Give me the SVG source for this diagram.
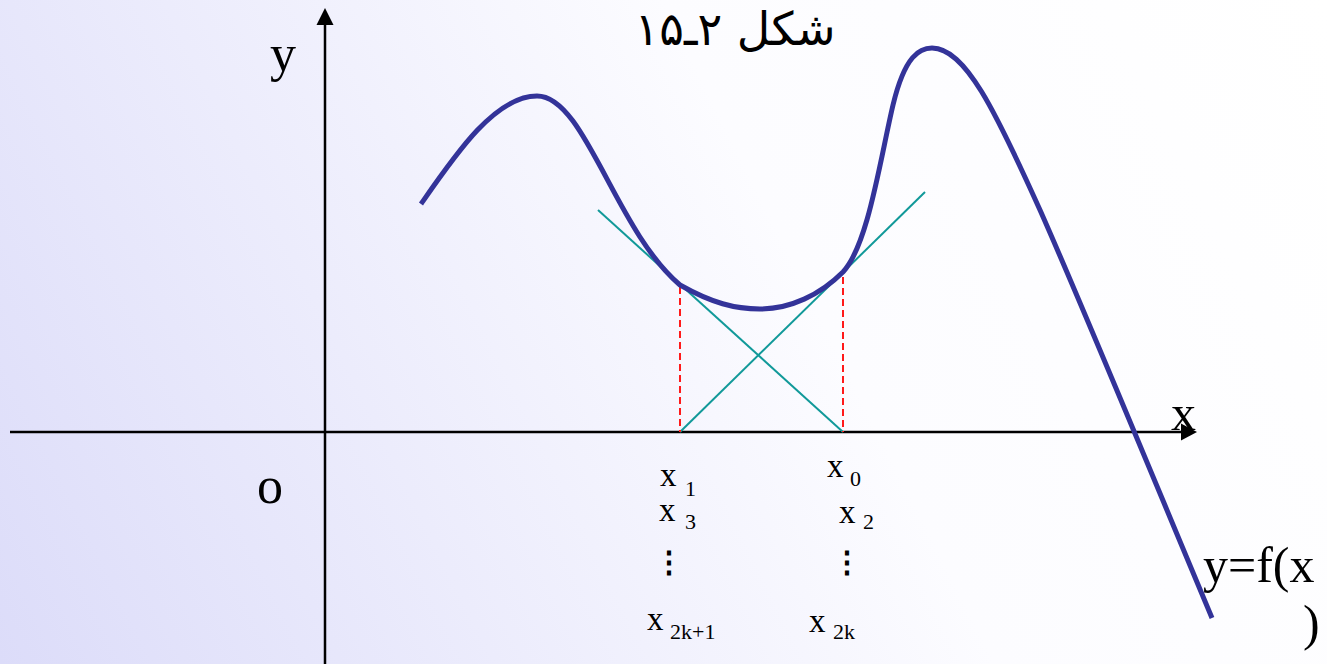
<svg xmlns="http://www.w3.org/2000/svg" width="1327" height="664" viewBox="0 0 1327 664">
<defs>
<linearGradient id="bg" x1="0" y1="664" x2="1327" y2="0" gradientUnits="userSpaceOnUse">
<stop offset="0" stop-color="#dcdcf9"/>
<stop offset="0.6" stop-color="#fcfcff"/>
<stop offset="1" stop-color="#ffffff"/>
</linearGradient>
</defs>
<style>
.ax{stroke:#000;stroke-width:2.5;fill:none}
.tan{stroke:#119999;stroke-width:2;fill:none}
.dash{stroke:#ff1a1a;stroke-width:2;stroke-dasharray:7,4;fill:none}
.curve{stroke:#333399;stroke-width:5;fill:none;stroke-linecap:butt}
.t{font-family:"Liberation Serif","Times New Roman",serif;fill:#000}
.x{font-family:"Liberation Serif","Times New Roman",serif;fill:#000;font-size:33px}
.sub{font-family:"Liberation Serif","Times New Roman",serif;fill:#000;font-size:22px}
.dots{font-family:"DejaVu Serif",serif;fill:#000;font-size:30px;font-weight:bold}
</style>
<rect width="1327" height="664" fill="url(#bg)"/>
<g id="connectors">
<line class="ax" x1="325" y1="664" x2="325" y2="22"/>
<path d="M325,8 L316.5,25 L333.5,25 Z" fill="#000"/>
<line class="ax" x1="10" y1="432" x2="1183" y2="432"/>
<path d="M1197,432 L1181,423.5 L1181,440.5 Z" fill="#000"/>
<line class="tan" x1="598" y1="210" x2="843" y2="432"/>
<line class="tan" x1="680" y1="432" x2="925" y2="192"/>
<line class="dash" x1="680" y1="287" x2="680" y2="432"/>
<line class="dash" x1="843" y1="277" x2="843" y2="432"/>
</g>
<g id="curve">
<path class="curve" d="M421,204 C455,155 495,96 537,96 C585,96 615,230 680,285 C712,303 735,309 760,309 C790,309 820,295 843,272 C868,245 880,160 893,105 C905,55 920,48 932,48 C965,48 995,110 1040,210 C1080,300 1150,470 1212,618"/>
</g>
<g id="title">
<text x="735" y="45" text-anchor="middle" font-family="'DejaVu Sans',sans-serif" font-size="46" direction="rtl">شكل ۲ـ۱۵</text>
</g>
<g id="axis-labels">
<text class="t" x="270" y="71" font-size="52">y</text>
<text class="t" x="257" y="503" font-size="52">o</text>
<text class="t" x="1171" y="430" font-size="50">x</text>
<text class="t" x="1203" y="582" font-size="50">y=f(x</text>
<text class="t" x="1303" y="640" font-size="50">)</text>
</g>
<g id="left-labels">
<text class="x" x="660" y="486">x</text><text class="sub" x="685" y="496">1</text>
<text class="x" x="659" y="521">x</text><text class="sub" x="685" y="529">3</text>
<text class="dots" x="654" y="572">⋮</text>
<text class="x" x="647" y="630">x</text><text class="sub" x="670" y="639">2k+1</text>
</g>
<g id="right-labels">
<text class="x" x="827" y="477">x</text><text class="sub" x="850" y="486">0</text>
<text class="x" x="839" y="523">x</text><text class="sub" x="863" y="529">2</text>
<text class="dots" x="832" y="572">⋮</text>
<text class="x" x="809" y="632">x</text><text class="sub" x="833" y="639">2k</text>
</g>
</svg>
